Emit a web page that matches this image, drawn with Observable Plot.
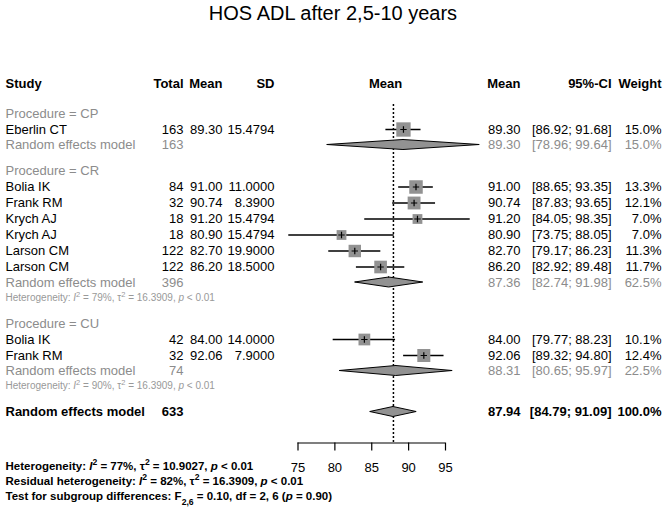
<!DOCTYPE html>
<html><head><meta charset="utf-8">
<script src="https://cdn.jsdelivr.net/npm/d3@7"></script>
<script src="https://cdn.jsdelivr.net/npm/@observablehq/plot@0.6"></script>
<style>
body{margin:0;background:#fff;font-family:"Liberation Sans",Arial,sans-serif;}
#title{height:26px;line-height:26px;text-align:center;font-size:20px;color:#000;}
</style></head><body>
<div id="title">HOS ADL after 2,5-10 years</div>
<div id="chart"></div>
<script>
// ---- data ----
const groups = ["CP", "CR", "CU"];
const studyNames = ["Eberlin CT", "Bolia IK", "Frank RM", "Krych AJ", "Krych AJ", "Larson CM", "Larson CM", "Bolia IK", "Frank RM"];
const studyGroup = ["CP", "CR", "CR", "CR", "CR", "CR", "CR", "CU", "CU"];
const studyTotal = [163, 84, 32, 18, 18, 122, 122, 42, 32];
const studyMean = [89.30, 91.00, 90.74, 91.20, 80.90, 82.70, 86.20, 84.00, 92.06];
const studySD = [15.4794, 11.0000, 8.3900, 15.4794, 15.4794, 19.9000, 18.5000, 14.0000, 7.9000];
const studyLower = [86.92, 88.65, 87.83, 84.05, 73.75, 79.17, 82.92, 79.77, 89.32];
const studyUpper = [91.68, 93.35, 93.65, 98.35, 88.05, 86.23, 89.48, 88.23, 94.80];
const studyWeight = [15.0, 13.3, 12.1, 7.0, 7.0, 11.3, 11.7, 10.1, 12.4];
const subTotal = [163, 396, 74];
const subMean = [89.30, 87.36, 88.31];
const subLower = [78.96, 82.74, 80.65];
const subUpper = [99.64, 91.98, 95.97];
const subWeight = [15.0, 62.5, 22.5];
const subI2 = [null, 79, 90];
const subTau2 = [null, 16.3909, 16.3909];
const subP = [null, "< 0.01", "< 0.01"];
const overallTotal = 633;
const overallMean = 87.94, overallLower = 84.79, overallUpper = 91.09, overallWeight = 100.0;
const overallHet = [77, 10.9027, "< 0.01"];
const residualHet = [82, 16.3909, "< 0.01"];
const subgroupTest = [0.10, 2, 6, 0.90];
const axisTicks = [75, 80, 85, 90, 95];

// ---- layout ----
const FONT = "'Liberation Sans', Arial, Helvetica, sans-serif";
const GRAY = "#8c8c8c";
const SQ = "#929292";
const W = 666, H = 484;
const col = {study: 5, total: 183, mean: 222, sd: 274, plotMid: 385, rmean: 520, ci: 611, weight: 661};
const headerY = 57;
let y = headerY + 30;
const groupRows = [], studyRows = [], remRows = [], hetRows = [];
groups.forEach((g, gi) => {
  if (gi > 0) y += 26;
  groupRows.push({y, text: `Procedure = ${g}`});
  studyNames.forEach((n, i) => {
    if (studyGroup[i] !== g) return;
    y += 16;
    studyRows.push({y, name: n, total: studyTotal[i], mean: studyMean[i], sd: studySD[i], lo: studyLower[i], hi: studyUpper[i], w: studyWeight[i]});
  });
  y += 15.5;
  remRows.push({y, id: g, total: subTotal[gi], mean: subMean[gi], lo: subLower[gi], hi: subUpper[gi], w: subWeight[gi]});
  if (subI2[gi] != null) {
    y += 15;
    hetRows.push({y, text: `Heterogeneity: I^2 = ${subI2[gi]}%, τ^2 = ${subTau2[gi].toFixed(4)}, p ${subP[gi]}`});
  }
});
y += 26;
const overallRow = {y, id: "overall", total: overallTotal, mean: overallMean, lo: overallLower, hi: overallUpper, w: overallWeight};
const axisY = y + 31;
const bottomRows = [
  {y: axisY + 23.5, text: `Heterogeneity: I^2 = ${overallHet[0]}%, τ^2 = ${overallHet[1].toFixed(4)}, p ${overallHet[2]}`},
  {y: axisY + 38.5, text: `Residual heterogeneity: I^2 = ${residualHet[0]}%, τ^2 = ${residualHet[1].toFixed(4)}, p ${residualHet[2]}`},
  {y: axisY + 53.5, text: `Test for subgroup differences: F_{${subgroupTest[1]},${subgroupTest[2]}} = ${subgroupTest[0].toFixed(2)}, df = ${subgroupTest[1]}, ${subgroupTest[2]} (p = ${subgroupTest[3].toFixed(2)})`}
];
const dashTop = headerY + 21;
const DH = 5; // diamond half height
const diamondPts = [...remRows, overallRow].flatMap(d => [
  {id: d.id, y: d.y - DH, x1: d.mean, x2: d.mean},
  {id: d.id, y: d.y, x1: d.lo, x2: d.hi},
  {id: d.id, y: d.y + DH, x1: d.mean, x2: d.mean}
]);
const f2 = v => v.toFixed(2);
const ci = d => `[${f2(d.lo)}; ${f2(d.hi)}]`;
const pct = d => `${d.w.toFixed(1)}%`;

const T = (data, text, dx, anchor, opts = {}) =>
  Plot.text(data, {y: "y", text, frameAnchor: "left", dx, textAnchor: anchor, fontFamily: FONT, fontSize: 13, ...opts});

const headers = [
  {t: "Study", x: col.study, a: "start"}, {t: "Total", x: col.total, a: "end"}, {t: "Mean", x: col.mean, a: "end"},
  {t: "SD", x: col.sd, a: "end"}, {t: "Mean", x: col.plotMid, a: "middle"}, {t: "Mean", x: col.rmean, a: "end"},
  {t: "95%-CI", x: col.ci, a: "end"}, {t: "Weight", x: col.weight, a: "end"}
];

const plot = Plot.plot({
  width: W, height: H,
  marginTop: 0, marginBottom: H - axisY, marginLeft: 0, marginRight: 0,
  x: {domain: [75, 95], range: [297.5, 445]},
  y: {domain: [0, axisY], range: [0, axisY], axis: null},
  r: {type: "identity"},
  style: {fontFamily: FONT, fontSize: "13px", color: "black", background: "white"},
  marks: [
    // headers
    ...headers.map(h => T([{y: headerY}], () => h.t, h.x, h.a, {fontWeight: "bold"})),
    // group labels
    T(groupRows, "text", col.study, "start", {fill: GRAY}),
    // studies
    T(studyRows, "name", col.study, "start"),
    T(studyRows, d => String(d.total), col.total, "end"),
    T(studyRows, d => f2(d.mean), col.mean, "end"),
    T(studyRows, d => d.sd.toFixed(4), col.sd, "end"),
    T(studyRows, d => f2(d.mean), col.rmean, "end"),
    T(studyRows, ci, col.ci, "end"),
    T(studyRows, pct, col.weight, "end"),
    // subgroup random effects
    T(remRows, () => "Random effects model", col.study, "start", {fill: GRAY}),
    T(remRows, d => String(d.total), col.total, "end", {fill: GRAY}),
    T(remRows, d => f2(d.mean), col.rmean, "end", {fill: GRAY}),
    T(remRows, ci, col.ci, "end", {fill: GRAY}),
    T(remRows, pct, col.weight, "end", {fill: GRAY}),
    T(hetRows, "text", col.study, "start", {fill: "#999999", fontSize: 10, className: "rich"}),
    // overall
    T([overallRow], () => "Random effects model", col.study, "start", {fontWeight: "bold"}),
    T([overallRow], d => String(d.total), col.total, "end", {fontWeight: "bold"}),
    T([overallRow], d => f2(d.mean), col.rmean, "end", {fontWeight: "bold"}),
    T([overallRow], ci, col.ci, "end", {fontWeight: "bold"}),
    T([overallRow], pct, col.weight, "end", {fontWeight: "bold"}),
    T(bottomRows, "text", col.study, "start", {fontSize: 11.5, fontWeight: "bold", className: "rich"}),
    // reference line
    Plot.ruleX([overallMean], {y1: dashTop, y2: axisY, stroke: "black", strokeWidth: 1.5, strokeDasharray: "2,2"}),
    // CI lines, squares, centre marks
    Plot.ruleY(studyRows, {y: "y", x1: "lo", x2: "hi", stroke: "black", strokeWidth: 1.5}),
    Plot.dot(studyRows, {x: "mean", y: "y", symbol: "square", r: d => 3.7 * Math.sqrt(d.w) / Math.sqrt(Math.PI), fill: SQ, stroke: "none"}),
    Plot.dot(studyRows, {x: "mean", y: "y", symbol: "plus", r: 2.2, stroke: "black", strokeWidth: 1.2}),
    // diamonds
    Plot.areaX(diamondPts, {y: "y", x1: "x1", x2: "x2", z: "id", fill: SQ, stroke: "black", strokeWidth: 1, curve: "linear"}),
    // axis
    Plot.ruleY([axisY], {x1: d3.min(axisTicks), x2: d3.max(axisTicks), stroke: "black", strokeWidth: 1.2}),
    Plot.axisX({ticks: axisTicks, tickSize: 8, tickPadding: 12, fontSize: 13, label: null, strokeWidth: 1.2})
  ]
});

// rich text: italics, superscripts, subscripts
function rich(s) {
  return s.replace(/&/g, "&amp;").replace(/</g, "&lt;")
    .replace(/\bI\^2/g, '<tspan font-style="italic">I</tspan><tspan baseline-shift="super" font-size="75%">2</tspan>')
    .replace(/τ\^2/g, 'τ<tspan baseline-shift="super" font-size="75%">2</tspan>')
    .replace(/\bp (?=&lt;|=)/g, '<tspan font-style="italic">p</tspan> ')
    .replace(/F_\{([^}]*)\}/g, 'F<tspan baseline-shift="sub" font-size="75%">$1</tspan>');
}
d3.select(plot).selectAll(".rich text").each(function () {
  this.innerHTML = rich(this.textContent);
});
document.getElementById("chart").appendChild(plot);
</script>
</body></html>
